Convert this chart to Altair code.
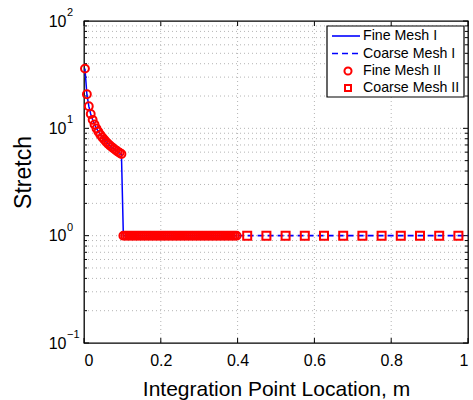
import altair as alt
import pandas as pd

W, H = 384, 322
FONT = "Liberation Sans"
BLUE = "#0000ff"
RED = "#ff0000"
GRID = "#b4b4b4"

# Fine mesh integration points (element size 0.005 m)
fine_x = [round(0.0025 + 0.005 * i, 4) for i in range(80)]
# stretch in the loaded zone (0 - 0.1 m), then unstretched material
fine_stretch_near = [36.0, 20.8, 16.1, 13.6, 12.0, 10.85, 9.98, 9.30, 8.73, 8.26,
                     7.86, 7.51, 7.20, 6.93, 6.69, 6.47, 6.27, 6.09, 5.92, 5.76]
fine_stretch = fine_stretch_near + [1.0] * 60

# Coarse mesh integration points (element size 0.05 m)
coarse_x = [0.425, 0.475, 0.525, 0.575, 0.625, 0.675,
            0.725, 0.775, 0.825, 0.875, 0.925, 0.975]
coarse_stretch = [1.0] * 12
coarse_line_x = [0.4] + coarse_x + [1.0]
coarse_line_stretch = [1.0] + coarse_stretch + [1.0]

x_ticks = [0, 0.2, 0.4, 0.6, 0.8, 1]
y_major = [0.1, 1, 10, 100]
y_exponents = ["\u22121", "0", "1", "2"]
y_minor = [0.2, 0.3, 0.4, 0.5, 0.6, 0.7, 0.8, 0.9,
           2, 3, 4, 5, 6, 7, 8, 9,
           20, 30, 40, 50, 60, 70, 80, 90]

series_names = ["Fine Mesh I", "Coarse Mesh I", "Fine Mesh II", "Coarse Mesh II"]

xs = alt.Scale(domain=[0, 1], nice=False, zero=False)
ys = alt.Scale(type="log", domain=[0.1, 100], nice=False)

AX = alt.Axis(values=x_ticks, format="~g", grid=False, ticks=False, domain=False,
              labelFontSize=16, labelFont=FONT, labelColor="black", labelPadding=9,
              title="Integration Point Location, m", titleFontSize=21,
              titleFont=FONT, titleFontWeight="normal", titleColor="black",
              titlePadding=10)
AY = alt.Axis(values=y_major, labelExpr="'10'", grid=False, ticks=False, domain=False,
              labelFontSize=16, labelFont=FONT, labelColor="black", labelPadding=18,
              title="Stretch", titleFontSize=23, titleFont=FONT,
              titleFontWeight="normal", titleColor="black",
              titleAngle=-90, titleX=-61, titleY=151, titleAlign="center",
              titleBaseline="middle")


def X(f):
    return alt.X(f, type="quantitative", scale=xs, axis=AX)


def Y(f):
    return alt.Y(f, type="quantitative", scale=ys, axis=AY)


fine_df = pd.DataFrame({"x": fine_x, "s": fine_stretch})
coarse_df = pd.DataFrame({"x": coarse_x, "s": coarse_stretch})
coarse_line_df = pd.DataFrame({"x": coarse_line_x, "s": coarse_line_stretch})
xt_df = pd.DataFrame({"x": x_ticks})
ymaj_df = pd.DataFrame({"y": y_major, "e": y_exponents})
ymin_df = pd.DataFrame({"y": y_minor})
ygrid_df = pd.DataFrame({"y": [1, 10] + y_minor})

# dotted grid
ygrid = alt.Chart(ygrid_df).mark_rule(color=GRID, strokeDash=[1, 3], strokeWidth=1).encode(
    y=Y("y"), x=alt.value(0), x2=alt.value(W))
xgrid = alt.Chart(pd.DataFrame({"x": [0.2, 0.4, 0.6, 0.8]})).mark_rule(
    color=GRID, strokeDash=[1, 3], strokeWidth=1).encode(
    x=X("x"), y=alt.value(0), y2=alt.value(H))

# inward tick marks on all four sides
tick_layers = []
for df, ln in ((ymaj_df, 5), (ymin_df, 3)):
    tick_layers.append(alt.Chart(df).mark_rule(color="black").encode(
        y=Y("y"), x=alt.value(0), x2=alt.value(ln)))
    tick_layers.append(alt.Chart(df).mark_rule(color="black").encode(
        y=Y("y"), x=alt.value(W - ln), x2=alt.value(W)))
tick_layers.append(alt.Chart(xt_df).mark_rule(color="black").encode(
    x=X("x"), y=alt.value(H - 5), y2=alt.value(H)))
tick_layers.append(alt.Chart(xt_df).mark_rule(color="black").encode(
    x=X("x"), y=alt.value(0), y2=alt.value(5)))

# data series
fine_line = alt.Chart(fine_df).mark_line(color=BLUE, strokeWidth=1.5).encode(
    x=X("x"), y=Y("s"))
coarse_line = alt.Chart(coarse_line_df).mark_line(
    color=BLUE, strokeWidth=1.6, strokeDash=[6, 4]).encode(x=X("x"), y=Y("s"))
fine_pts = alt.Chart(fine_df).mark_point(
    shape="circle", color=RED, filled=False, size=62, strokeWidth=2, opacity=1).encode(
    x=X("x"), y=Y("s"))
coarse_pts = alt.Chart(coarse_df).mark_point(
    shape="square", color=RED, filled=False, size=64, strokeWidth=2, opacity=1).encode(
    x=X("x"), y=Y("s"))

# superscript exponents of the decade labels
exps = alt.Chart(ymaj_df).mark_text(
    align="left", baseline="middle", fontSize=11, font=FONT, color="black", dy=-8).encode(
    y=Y("y"), x=alt.value(-17), text="e:N")

# legend box
LX0, LX1, LY0, LY1 = 243, 380, 5, 76
rows = [15, 32.5, 50, 67]
one = pd.DataFrame({"a": [0]})
legend_layers = [
    alt.Chart(one).mark_rect(fill="white", stroke="black", strokeWidth=1.2).encode(
        x=alt.value(LX0), x2=alt.value(LX1), y=alt.value(LY0), y2=alt.value(LY1)),
    alt.Chart(one).mark_rule(color=BLUE, strokeWidth=1.6).encode(
        x=alt.value(248), x2=alt.value(276), y=alt.value(rows[0])),
    alt.Chart(one).mark_rule(color=BLUE, strokeWidth=1.6, strokeDash=[6, 4]).encode(
        x=alt.value(248), x2=alt.value(276), y=alt.value(rows[1])),
    alt.Chart(one).mark_point(
        shape="circle", color=RED, filled=False, size=50, strokeWidth=2, opacity=1).encode(
        x=alt.value(264), y=alt.value(rows[2])),
    alt.Chart(one).mark_point(
        shape="square", color=RED, filled=False, size=36, strokeWidth=2, opacity=1).encode(
        x=alt.value(264), y=alt.value(rows[3])),
]
for name, ry in zip(series_names, rows):
    legend_layers.append(alt.Chart(one).mark_text(
        align="left", baseline="middle", fontSize=14.2, font=FONT, color="black").encode(
        x=alt.value(279), y=alt.value(ry), text=alt.value(name)))

chart = alt.layer(
    ygrid, xgrid, *tick_layers, fine_line, coarse_line, fine_pts, coarse_pts, exps,
    *legend_layers,
).properties(
    width=W, height=H,
    autosize=alt.AutoSizeParams(type="none"),
    padding={"left": 84, "top": 21, "right": 5, "bottom": 57},
    background="white",
).configure_view(stroke="black", strokeWidth=1.3)

chart.save("out.html", embed_options={"renderer": "svg", "actions": False})
